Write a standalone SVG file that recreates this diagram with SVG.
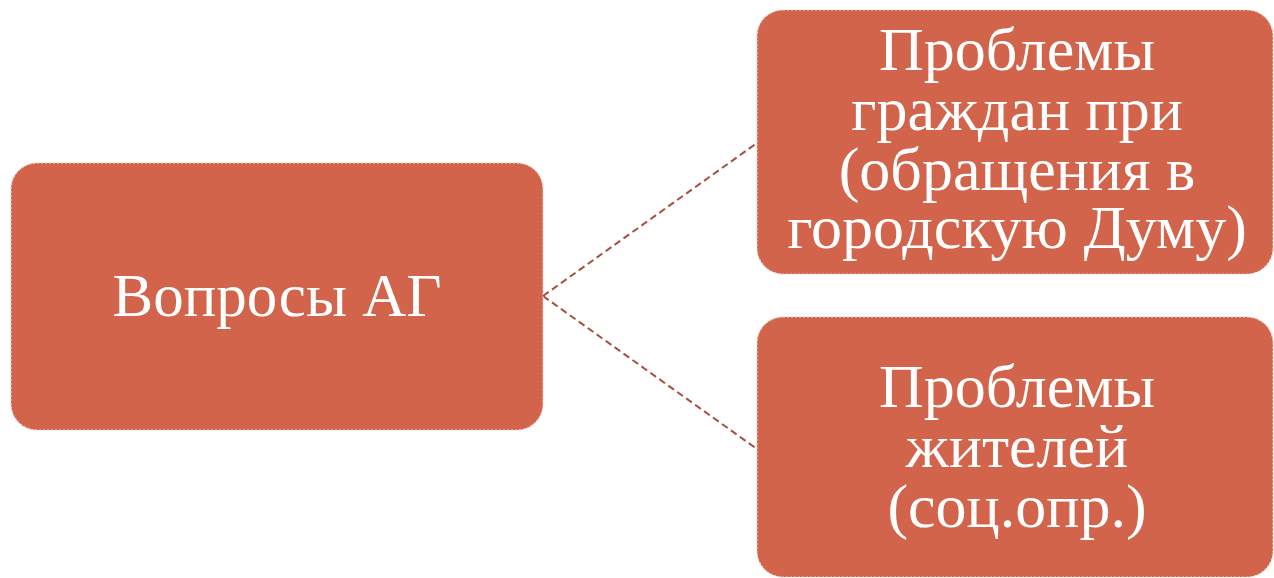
<svg xmlns="http://www.w3.org/2000/svg" width="1274" height="578" viewBox="0 0 1274 578">
<style>
.box{fill:#D1644A;stroke:#F2CFC4;stroke-width:1.2;stroke-dasharray:2 2}
.lbl{font-family:"Liberation Serif","DejaVu Serif",serif;fill:#FFFFFF;text-anchor:middle}
.conn{stroke:#A5503C;stroke-width:2;stroke-dasharray:7 4;fill:none}
</style>
<rect width="1274" height="578" fill="#FFFFFF"/>
<g id="connectors">
<line class="conn" x1="543" y1="296" x2="757" y2="143"/>
<line class="conn" x1="543" y1="296" x2="757" y2="449"/>
</g>
<g id="node-main">
<rect class="box" x="11" y="163" width="532" height="267" rx="26"/>
<text class="lbl" x="277" y="316" font-size="61">Вопросы АГ</text>
</g>
<g id="node-top">
<rect class="box" x="757" y="10" width="516" height="264" rx="26"/>
<text class="lbl" font-size="62"><tspan x="1017" y="70">Проблемы</tspan><tspan x="1017" y="130">граждан при</tspan><tspan x="1017" y="190">(обращения в</tspan><tspan x="1017" y="248">городскую Думу)</tspan></text>
</g>
<g id="node-bottom">
<rect class="box" x="757" y="317" width="516" height="260" rx="26"/>
<text class="lbl" font-size="62"><tspan x="1017" y="407">Проблемы</tspan><tspan x="1017" y="467">жителей</tspan><tspan x="1017" y="527">(соц.опр.)</tspan></text>
</g>
</svg>
